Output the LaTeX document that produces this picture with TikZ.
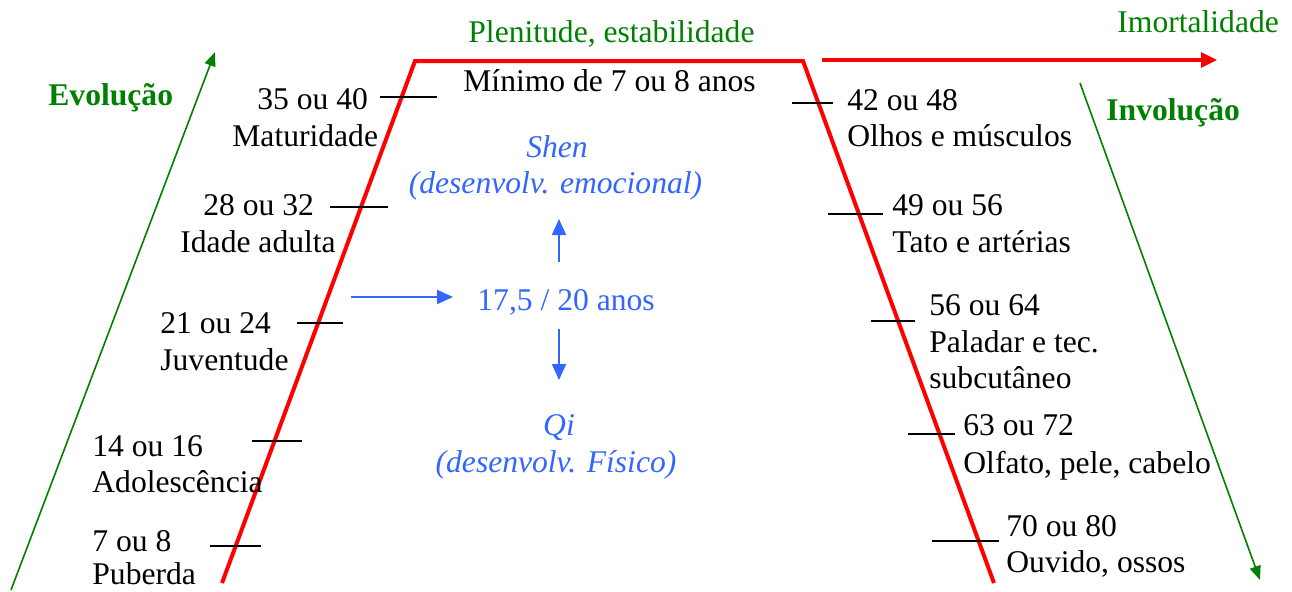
\documentclass[tikz,border=0pt]{standalone}
\usepackage{fontspec}
\setmainfont{Liberation Serif}
\usetikzlibrary{arrows.meta}
\definecolor{cred}{RGB}{255,0,0}
\definecolor{cgreen}{RGB}{0,128,0}
\definecolor{cblue}{RGB}{51,102,255}
\begin{document}
\begin{tikzpicture}[x=0.5pt,y=-0.5pt,
  font=\fontsize{15.8}{19}\selectfont,
  lbl/.style={anchor=base west, inner sep=0pt},
  clbl/.style={anchor=base, inner sep=0pt},
  gtxt/.style={text=cgreen},
  btxt/.style={text=cblue},
  trap/.style={draw=cred, line width=2pt, line join=miter},
  redarrow/.style={draw=cred, line width=1.6pt, -{Triangle[length=8pt,width=7.5pt]}},
  greenarrow/.style={draw=cgreen, line width=0.8pt, -{Triangle[length=7pt,width=5.5pt]}},
  bluearrow/.style={draw=cblue, line width=1pt, -{Triangle[length=8pt,width=7pt]}},
  tick/.style={draw=black, line width=1pt}]
\useasboundingbox (0,0) rectangle (1292,591);

% trapezoid
\coordinate (tl0) at (222,583);
\coordinate (tl1) at (415,61);
\coordinate (tr1) at (803,61);
\coordinate (tr0) at (994,583);
\draw[trap] (tl0) -- (tl1) -- (tr1) -- (tr0);

% red arrow
\coordinate (ra0) at (822,60);
\coordinate (ra1) at (1217,60);
\draw[redarrow] (ra0) -- (ra1);

% green arrows
\coordinate (ga0) at (11,590);
\coordinate (ga1) at (215,52);
\draw[greenarrow] (ga0) -- (ga1);
\coordinate (gb0) at (1080,83);
\coordinate (gb1) at (1260,580);
\draw[greenarrow] (gb0) -- (gb1);

% titles
\node[lbl,gtxt] (plen) at (468,42) {Plenitude, estabilidade};
\node[lbl,gtxt] (imort) at (1117,32) {Imortalidade};
\node[lbl,gtxt,font=\fontsize{15.8}{19}\selectfont\bfseries] (evol) at (48,105) {Evolução};
\node[lbl,gtxt,font=\fontsize{15.8}{19}\selectfont\bfseries] (invol) at (1106,120) {Involução};
\node[lbl] (minimo) at (463,91) {Mínimo de 7 ou 8 anos};

% left ticks
\coordinate (lt1a) at (380,97);  \coordinate (lt1b) at (437,97);
\coordinate (lt2a) at (330,207); \coordinate (lt2b) at (388,207);
\coordinate (lt3a) at (297,323); \coordinate (lt3b) at (343,323);
\coordinate (lt4a) at (252,441); \coordinate (lt4b) at (302,441);
\coordinate (lt5a) at (210,546); \coordinate (lt5b) at (261,546);
\foreach \i in {1,...,5} {\draw[tick] (lt\i a) -- (lt\i b);}

% right ticks
\coordinate (rt1a) at (792,103); \coordinate (rt1b) at (833,103);
\coordinate (rt2a) at (828,214); \coordinate (rt2b) at (883,214);
\coordinate (rt3a) at (871,321); \coordinate (rt3b) at (915,321);
\coordinate (rt4a) at (908,434); \coordinate (rt4b) at (955,434);
\coordinate (rt5a) at (932,541); \coordinate (rt5b) at (999,541);
\foreach \i in {1,...,5} {\draw[tick] (rt\i a) -- (rt\i b);}

% left labels
\node[lbl] (l1a) at (257,109) {35 ou 40};
\node[lbl] (l1b) at (232,146) {Maturidade};
\node[lbl] (l2a) at (203,215) {28 ou 32};
\node[lbl] (l2b) at (180,252) {Idade adulta};
\node[lbl] (l3a) at (160,333) {21 ou 24};
\node[lbl] (l3b) at (160,370) {Juventude};
\node[lbl] (l4a) at (92,456) {14 ou 16};
\node[lbl] (l4b) at (92,492) {Adolescência};
\node[lbl] (l5a) at (92,551) {7 ou 8};
\node[lbl] (l5b) at (92,584) {Puberda};

% right labels
\node[lbl] (r1a) at (847,110) {42 ou 48};
\node[lbl] (r1b) at (847,146) {Olhos e músculos};
\node[lbl] (r2a) at (892,215) {49 ou 56};
\node[lbl] (r2b) at (892,252) {Tato e artérias};
\node[lbl] (r3a) at (929,315) {56 ou 64};
\node[lbl] (r3b) at (929,352) {Paladar e tec.};
\node[lbl] (r3c) at (929,388) {subcutâneo};
\node[lbl] (r4a) at (963,435) {63 ou 72};
\node[lbl] (r4b) at (963,473) {Olfato, pele, cabelo};
\node[lbl] (r5a) at (1006,536) {70 ou 80};
\node[lbl] (r5b) at (1006,572) {Ouvido, ossos};

% centre (blue)
\node[clbl,btxt,font=\fontsize{15.8}{19}\selectfont\itshape] (shen) at (557,157) {Shen};
\node[clbl,btxt,font=\fontsize{15.8}{19}\selectfont\itshape] (shenb) at (555.5,193) {(desenvolv. emocional)};
\node[lbl,btxt] (mid) at (477,310) {17,5 / 20 anos};
\node[clbl,btxt,font=\fontsize{15.8}{19}\selectfont\itshape] (qi) at (559,435) {Qi};
\node[clbl,btxt,font=\fontsize{15.8}{19}\selectfont\itshape] (qib) at (556,472) {(desenvolv. Físico)};

\coordinate (hb0) at (351,297); \coordinate (hb1) at (453,297);
\coordinate (ub0) at (559,262); \coordinate (ub1) at (559,219);
\coordinate (db0) at (559,329); \coordinate (db1) at (559,380);
\draw[bluearrow] (hb0) -- (hb1);
\draw[bluearrow] (ub0) -- (ub1);
\draw[bluearrow] (db0) -- (db1);
\end{tikzpicture}
\end{document}
